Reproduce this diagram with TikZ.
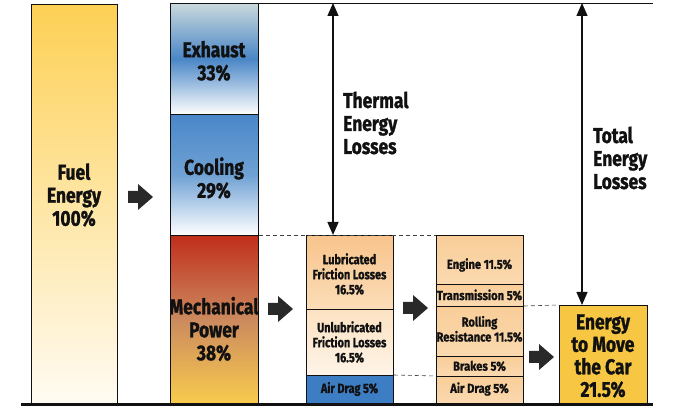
\documentclass[tikz,border=0pt]{standalone}
\usepackage{fontspec}
\newfontfamily\lbl{Fira Sans}[FakeStretch=0.81,FakeBold=1.2]
\newfontfamily\lblw{Fira Sans}[FakeStretch=0.86,FakeBold=1.0]
\usetikzlibrary{arrows.meta}
\definecolor{ink}{HTML}{111111}
\definecolor{fuelT}{HTML}{FDD055}
\definecolor{fuelB}{HTML}{FFFBF3}
\definecolor{exT}{HTML}{C9D9DC}
\definecolor{exM}{HTML}{4A86C6}
\definecolor{coT}{HTML}{4A87C9}
\definecolor{coM}{HTML}{6FA1D4}
\definecolor{meT}{HTML}{C02E1C}
\definecolor{meM}{HTML}{CC8A5E}
\definecolor{meB}{HTML}{F8CB4E}
\definecolor{luT}{HTML}{F8C48C}
\definecolor{luB}{HTML}{FBDDB8}
\definecolor{unT}{HTML}{FCE2C2}
\definecolor{unB}{HTML}{FEF4E8}
\definecolor{drag}{HTML}{3D7DC3}
\definecolor{peach}{HTML}{F9CD98}
\definecolor{peachL}{HTML}{FAD9B0}
\definecolor{move}{HTML}{F7C744}
\tikzset{
  box/.style={draw=ink, line width=0.8pt, inner sep=0pt, anchor=north west},
  big/.style={font=\lbl\bfseries\fontsize{21.5}{23}\selectfont, align=center, text=ink, inner sep=0pt},
  small/.style={font=\lbl\bfseries\fontsize{13.5}{15}\selectfont, align=center, text=ink, inner sep=0pt},
  smallw/.style={font=\lblw\bfseries\fontsize{13}{15}\selectfont, align=center, text=ink, inner sep=0pt},
  side/.style={font=\lbl\bfseries\fontsize{21.5}{23}\selectfont, align=left, text=ink, inner sep=0pt, anchor=west},
  dim/.style={ink, line width=1.3pt, {Triangle[width=11pt,length=13pt]}-{Triangle[width=11pt,length=13pt]}},
  guide/.style={ink!80, line width=0.6pt, dash pattern=on 4pt off 3pt},
  barrow/.pic={\fill[ink!90] (0,-6)--(10,-6)--(10,-13)--(25,0)--(10,13)--(10,6)--(0,6)--cycle;}
}
\begin{document}
\begin{tikzpicture}[x=1pt,y=-1pt]
\useasboundingbox (0,0) rectangle (680,411);
% fuel column
\node[box, minimum width=86pt, minimum height=399pt, top color=fuelT, bottom color=fuelB] (fuel) at (31,4) {};
% middle column
\node[box, minimum width=88pt, minimum height=111pt, top color=exT, bottom color=white, middle color=exM] (exh) at (170,3) {};
\node[box, minimum width=88pt, minimum height=121pt, top color=coT, bottom color=white, middle color=coM] (cool) at (170,114) {};
\node[box, minimum width=88pt, minimum height=168pt, top color=meT, bottom color=meB, middle color=meM] (mech) at (170,235) {};
% second column
\node[box, minimum width=87pt, minimum height=74pt, top color=luT, bottom color=luB] (lub) at (306,235) {};
\node[box, minimum width=87pt, minimum height=66pt, top color=unT, bottom color=unB] (unl) at (306,309) {};
\node[box, minimum width=87pt, minimum height=28pt, fill=drag] (drag2) at (306,375) {};
% third column
\node[box, minimum width=87pt, minimum height=49pt, top color=peach, bottom color=peachL] (eng) at (436,235) {};
\node[box, minimum width=87pt, minimum height=22pt, top color=peach, bottom color=peachL] (trans) at (436,284) {};
\node[box, minimum width=87pt, minimum height=50pt, top color=peach, bottom color=peachL] (roll) at (436,306) {};
\node[box, minimum width=87pt, minimum height=20pt, top color=peach, bottom color=peachL] (brake) at (436,356) {};
\node[box, minimum width=87pt, minimum height=27pt, top color=peach, bottom color=peachL] (drag3) at (436,376) {};
% result
\node[box, minimum width=88pt, minimum height=98pt, fill=move] (car) at (559,305) {};
% labels
\node[big] (tfuel) at (74,195) {Fuel\\Energy\\100\%};
\node[big] (texh) at (214,61) {Exhaust\\33\%};
\node[big] (tcool) at (214,178) {Cooling\\29\%};
\node[big] (tmech) at (214,329) {Mechanical\\Power\\38\%};
\node[small] (tlub) at (349.5,274) {Lubricated\\Friction Losses\\16.5\%};
\node[small] (tunl) at (349.5,342) {Unlubricated\\Friction Losses\\16.5\%};
\node[small] (tdrag2) at (349.5,389) {Air Drag 5\%};
\node[smallw] (teng) at (479.5,265) {Engine 11.5\%};
\node[smallw] (ttrans) at (479.5,295) {Transmission 5\%};
\node[smallw] (troll) at (479.5,329) {Rolling\\Resistance 11.5\%};
\node[smallw] (tbrake) at (479.5,366) {Brakes 5\%};
\node[smallw] (tdrag3) at (479.5,389) {Air Drag 5\%};
\node[big, font=\lbl\bfseries\fontsize{21.5}{22.5}\selectfont] (tcar) at (603,356) {Energy\\to Move\\the Car\\21.5\%};
\node[side] (tthermal) at (343,123) {Thermal\\Energy\\Losses};
\node[side] (ttotal) at (593,158) {Total\\Energy\\Losses};
% frame lines
\coordinate (topR) at (653,3);
\coordinate (botL) at (21,404.5);
\coordinate (botR) at (653,404.5);
\draw[ink, line width=0.9pt] (exh.north west) -- (topR);
\draw[ink, line width=3pt] (botL) -- (botR);
% dashed guides
\draw[guide] (mech.north east) -- (eng.north west);
\draw[guide] (drag2.north east) -- (drag3.north west);
\draw[guide] (roll.north east) -- (car.north west);
% dimension arrows
\coordinate (th1) at (333,3);
\coordinate (th2) at (333,235);
\coordinate (to1) at (582,3);
\coordinate (to2) at (582,305);
\draw[dim] (th1) -- (th2);
\draw[dim] (to1) -- (to2);
% block arrows
\pic at (128,197) {barrow};
\pic at (268,309) {barrow};
\pic at (403,308) {barrow};
\pic at (529,357) {barrow};
\end{tikzpicture}
\end{document}
